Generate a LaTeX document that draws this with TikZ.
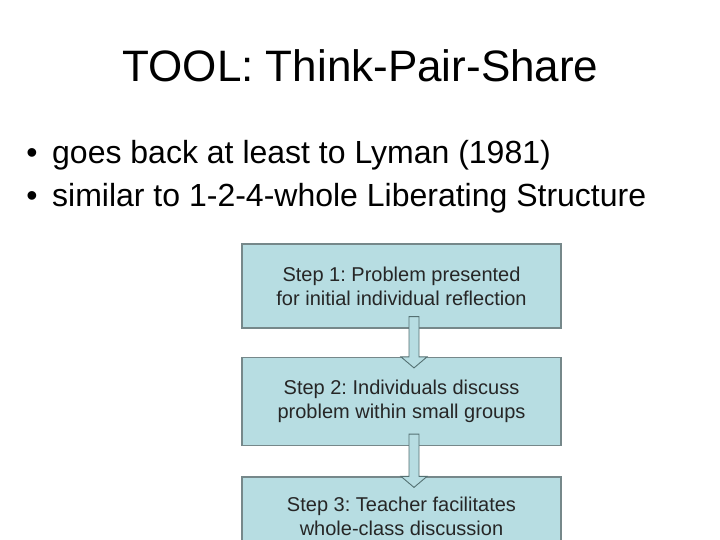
\documentclass[tikz,border=0pt]{standalone}
\usepackage{fontspec}
\setmainfont{Liberation Sans}
\usetikzlibrary{calc}
\frenchspacing
\definecolor{boxfill}{RGB}{183,221,226}
\definecolor{boxline}{RGB}{118,136,138}
\definecolor{arrline}{RGB}{84,112,114}
\definecolor{boxtext}{RGB}{38,38,38}
\tikzset{
  stepbox/.style={draw=boxline, line width=1.2pt, fill=boxfill, minimum width=319pt, inner sep=0pt,
    align=center, text=boxtext, font=\fontsize{20}{24}\selectfont},
  blockarr/.style={draw=arrline, line width=0.9pt, fill=boxfill},
  titletext/.style={font=\fontsize{44}{52}\selectfont, anchor=base, inner sep=0pt},
  bullettext/.style={font=\fontsize{32}{38}\selectfont, anchor=base west, inner sep=0pt},
  bulletdot/.style={font=\fontsize{32}{38}\selectfont, anchor=base, inner sep=0pt}
}
\newcommand{\blockarrow}[3]{%
  \coordinate (#3s) at ($(#1.south)+(12.5,-12)$);
  \coordinate (#3h) at ($(#2.north)+(12.5,0)$);
  \coordinate (#3t) at ($(#2.north)+(12.5,11)$);
  \draw[blockarr] ($(#3s)+(-5,0)$) -- ($(#3h)+(-5,0)$) -- ($(#3h)+(-13,0)$) -- (#3t)
    -- ($(#3h)+(13,0)$) -- ($(#3h)+(5,0)$) -- ($(#3s)+(5,0)$) -- cycle;
}
\begin{document}
\begin{tikzpicture}[x=1pt,y=-1pt]
\useasboundingbox (0,0) rectangle (720,540);
\clip (0,0) rectangle (720,540);
\fill[white] (0,0) rectangle (720,540);
\node[titletext] (title) at (360.5,82) {TOOL: Think-Pair-Share};
\node[bulletdot] (d1) at (32,164) {•};
\node[bullettext] (l1) at (52,164) {goes back at least to Lyman (1981)};
\node[bulletdot] (d2) at (32,207) {•};
\node[bullettext] (l2) at (52,207) {similar to 1-2-4-whole Liberating Structure};
\node[stepbox, minimum height=84pt] (b1) at (401.5,286) {Step 1: Problem presented\\for initial individual reflection};
\node[stepbox, minimum height=88pt] (b2) at (401.5,401.5) {Step 2: Individuals discuss\\problem within small groups};
\node[stepbox, minimum height=78pt] (b3) at (401.5,516) {Step 3: Teacher facilitates\\whole-class discussion};
\blockarrow{b1}{b2}{a1}
\blockarrow{b2}{b3}{a2}
\end{tikzpicture}
\end{document}
